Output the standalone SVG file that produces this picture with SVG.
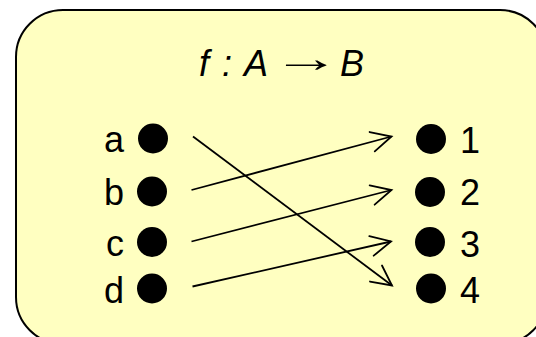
<svg xmlns="http://www.w3.org/2000/svg" width="536" height="337" viewBox="0 0 536 337">
<style>
.lbl{font-family:"Liberation Sans",Arial,sans-serif;font-size:36px;fill:#000}
.dot{fill:#000}
.edge{stroke:#000;stroke-width:1.8;fill:none;marker-end:url(#arr)}
</style>
<defs>
<marker id="arr" markerUnits="userSpaceOnUse" viewBox="-22 -12 24 24" refX="0" refY="0" markerWidth="24" markerHeight="24" orient="auto" overflow="visible">
<path d="M-20,-10 L0,0 L-20,10" fill="none" stroke="#000" stroke-width="1.8" stroke-linecap="round" stroke-linejoin="miter"/>
</marker>
</defs>
<rect id="frame" x="16" y="10" width="531" height="334" rx="47" ry="47" fill="#ffffc1" stroke="#000" stroke-width="2"/>
<g id="title">
<text class="lbl" y="76" font-size="37"><tspan x="199" font-style="italic">f</tspan><tspan x="222" font-style="italic">:</tspan><tspan x="244" font-style="italic">A</tspan><tspan x="340" font-style="italic">B</tspan></text>
<text class="lbl" x="0" y="0" font-size="40" transform="translate(272,72) scale(1.9,1.1)">→</text>
</g>
<g id="node-a"><circle class="dot" cx="153" cy="138.5" r="15"/><text class="lbl" x="124" y="152" text-anchor="end">a</text></g>
<g id="node-b"><circle class="dot" cx="152" cy="191.5" r="15"/><text class="lbl" x="124" y="204.5" text-anchor="end">b</text></g>
<g id="node-c"><circle class="dot" cx="152" cy="242" r="15"/><text class="lbl" x="124" y="256" text-anchor="end">c</text></g>
<g id="node-d"><circle class="dot" cx="152" cy="288.5" r="15"/><text class="lbl" x="124" y="302.5" text-anchor="end">d</text></g>
<g id="node-1"><circle class="dot" cx="431" cy="139" r="15"/><text class="lbl" x="460" y="152.5">1</text></g>
<g id="node-2"><circle class="dot" cx="430" cy="192" r="15"/><text class="lbl" x="460" y="205">2</text></g>
<g id="node-3"><circle class="dot" cx="430" cy="242" r="15"/><text class="lbl" x="460" y="256.5">3</text></g>
<g id="node-4"><circle class="dot" cx="431" cy="288.5" r="15"/><text class="lbl" x="460" y="302.5">4</text></g>
<g id="connectors">
<line class="edge" x1="193" y1="136.5" x2="392" y2="285.5"/>
<line class="edge" x1="191.5" y1="190" x2="391.5" y2="136.5"/>
<line class="edge" x1="191.5" y1="241.5" x2="391.5" y2="190"/>
<line class="edge" x1="192.5" y1="286.5" x2="391" y2="241.5"/>
</g>
</svg>
